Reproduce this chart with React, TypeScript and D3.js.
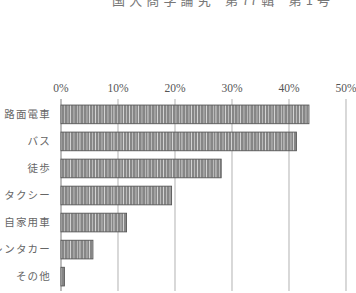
import React from "react";
import * as d3 from "d3";

const categories = ["路面電車", "バス", "徒歩", "タクシー", "自家用車", "レンタカー", "その他"];
const values = [43.5, 41.3, 28.1, 19.4, 11.5, 5.6, 0.6];
const ticks = [0, 10, 20, 30, 40, 50];
const header = "国 大 商 学 論 究　第 77 輯　第 1 号";

export default function App() {
  const W = 356, H = 293;
  const x = d3.scaleLinear().domain([0, 50]).range([61, 346]);
  const y = d3.scaleBand().domain(categories).range([101, 290]).paddingInner(0.31).paddingOuter(0.15);
  const stripes = [0, 3, 6.5, 9, 12.5, 16, 18.5, 22, 25.5, 28, 31];
  return (
    <svg width={W} height={H} style={{ position: "absolute", left: 0, top: 0, background: "#fff" }}>
      <defs>
        <pattern id="st" patternUnits="userSpaceOnUse" width={34} height={20} x={61}>
          <rect width={34} height={20} fill="#868686" />
          {stripes.map((s, i) => (
            <rect key={i} x={s} width={0.9} height={20} fill={i % 3 === 0 ? "#dcdcdc" : "#c0c0c0"} />
          ))}
        </pattern>
      </defs>
      <text x={112} y={5} fontFamily="Noto Sans CJK JP" fontSize={13} fill="#777" textLength={218} lengthAdjust="spacing">{header}</text>
      {ticks.map((t) => (
        <g key={t}>
          <line x1={x(t)} x2={x(t)} y1={99} y2={291} stroke={t === 0 ? "#999" : "#c4c4c4"} strokeWidth={1.3} />
          <text x={x(t)} y={92} textAnchor="middle" fontFamily="Liberation Serif" fontSize={11.5} fill="#555">{t}%</text>
        </g>
      ))}
      {categories.map((c, i) => (
        <g key={c}>
          <rect x={x(0)} y={y(c)!} width={x(values[i]) - x(0)} height={y.bandwidth()} fill="url(#st)" stroke="#555" strokeWidth={0.9} />
          <text x={51} y={y(c)! + y.bandwidth() / 2} dy="0.35em" textAnchor="end" fontFamily="Noto Sans CJK JP" fontSize={10.5} fill="#666" letterSpacing={1.2}>{c}</text>
        </g>
      ))}
    </svg>
  );
}
